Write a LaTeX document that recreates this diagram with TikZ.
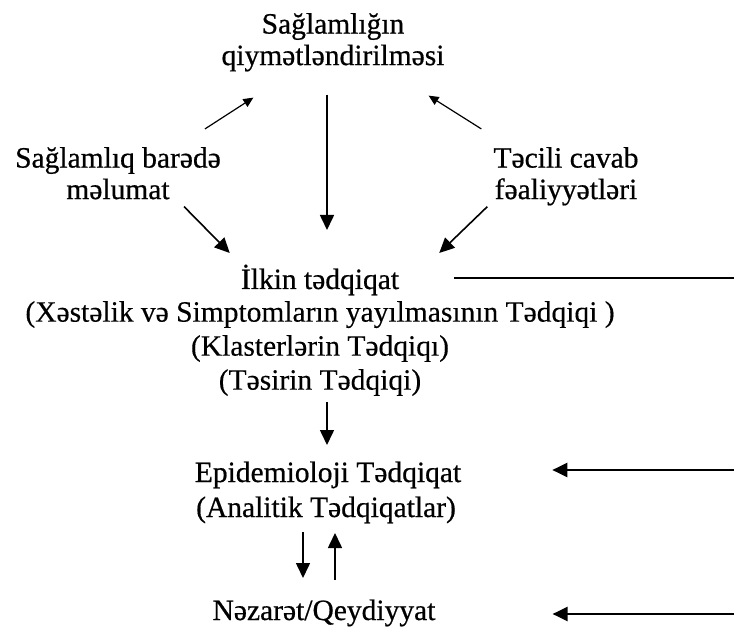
\documentclass[tikz,border=0pt]{standalone}
\usepackage{fontspec}
\setmainfont{Liberation Serif}
\newfontfamily\headfont{Liberation Serif}[FakeBold=0.6]
\newfontfamily\subfont{Liberation Serif}[FakeBold=0.3]
\usetikzlibrary{arrows.meta}

\begin{document}
\begin{tikzpicture}[
  x=1pt, y=-1pt,
  >={Triangle[length=15pt, width=14pt]},
  lbl/.style={inner sep=0pt, align=center, font=\headfont\fontsize{29.5}{31.5}\selectfont},
  sub/.style={lbl, font=\subfont\fontsize{29.5}{34}\selectfont},
  arr/.style={->, line width=1.6pt},
  arrsm/.style={-{Triangle[length=10pt, width=9pt]}, line width=1.2pt},
  feed/.style={->, line width=2.2pt},
]
\useasboundingbox (0,0) rectangle (734,628);

% === Top: assessment and its inputs ===
\node[lbl, anchor=north] (assess) at (333, 12.9) {Sağlamlığın\\qiymətləndirilməsi};
\node[lbl, anchor=north] (info) at (118, 146.9) {Sağlamlıq barədə\\məlumat};
\node[lbl, anchor=north] (resp) at (566, 146.9) {Təcili cavab\\fəaliyyətləri};

\draw[arrsm] ([xshift=-16pt, yshift=18pt]info.north east)
  -- ([xshift=32pt, yshift=-26pt]assess.south west);
\draw[arrsm] ([xshift=-12pt, yshift=18pt]resp.north west)
  -- ([xshift=-16pt, yshift=-24pt]assess.south east);

% === Initial study ===
\node[lbl, anchor=base] (initial) at (320, 289) {İlkin tədqiqat};
\node[sub, anchor=north] (studies) at (320, 301)
  {(Xəstəlik və Simptomların yayılmasının Tədqiqi )\\(Klasterlərin Tədqiqı)\\(Təsirin Tədqiqi)};

\draw[arr] ([xshift=-6pt, yshift=-23pt]assess.south)
  -- ([xshift=7pt, yshift=59pt]initial.base);
\draw[arr] ([xshift=-37pt, yshift=-7pt]info.south east)
  -- ([xshift=-11pt, yshift=36pt]initial.base west);
\draw[arr] ([xshift=-6pt, yshift=-1pt]resp.south west)
  -- ([xshift=40pt, yshift=36pt]initial.base east);

% === Epidemiological study and control ===
\node[lbl, anchor=base] (epi) at (328, 482) {Epidemioloji Tədqiqat};
\node[lbl, anchor=base] (analytic) at (326, 517) {(Analitik Tədqiqatlar)};
\node[lbl, anchor=base] (control) at (324, 620) {Nəzarət/Qeydiyyat};

\draw[arr] ([xshift=7pt, yshift=-6pt]studies.south)
  -- ([xshift=-1pt, yshift=37pt]epi.base);
\draw[arr] ([xshift=-23pt, yshift=-15pt]analytic.base)
  -- ([xshift=-21pt, yshift=42pt]control.base);
\draw[arr] ([xshift=11pt, yshift=40pt]control.base)
  -- ([xshift=9pt, yshift=-16pt]analytic.base);

% === Feedback line on the right ===
\coordinate (rim) at (734, 0);
\coordinate (ilkout) at ([xshift=55pt, yshift=11pt]initial.base east);
\coordinate (epiin) at ([xshift=91pt, yshift=12pt]epi.base east);
\coordinate (ctlin) at ([xshift=117pt, yshift=6pt]control.base east);

\draw[line width=2.2pt] (ilkout) -- (ilkout -| rim);
\draw[feed] (epiin -| rim) -- (epiin);
\draw[feed] (ctlin -| rim) -- (ctlin);

\end{tikzpicture}
\end{document}
